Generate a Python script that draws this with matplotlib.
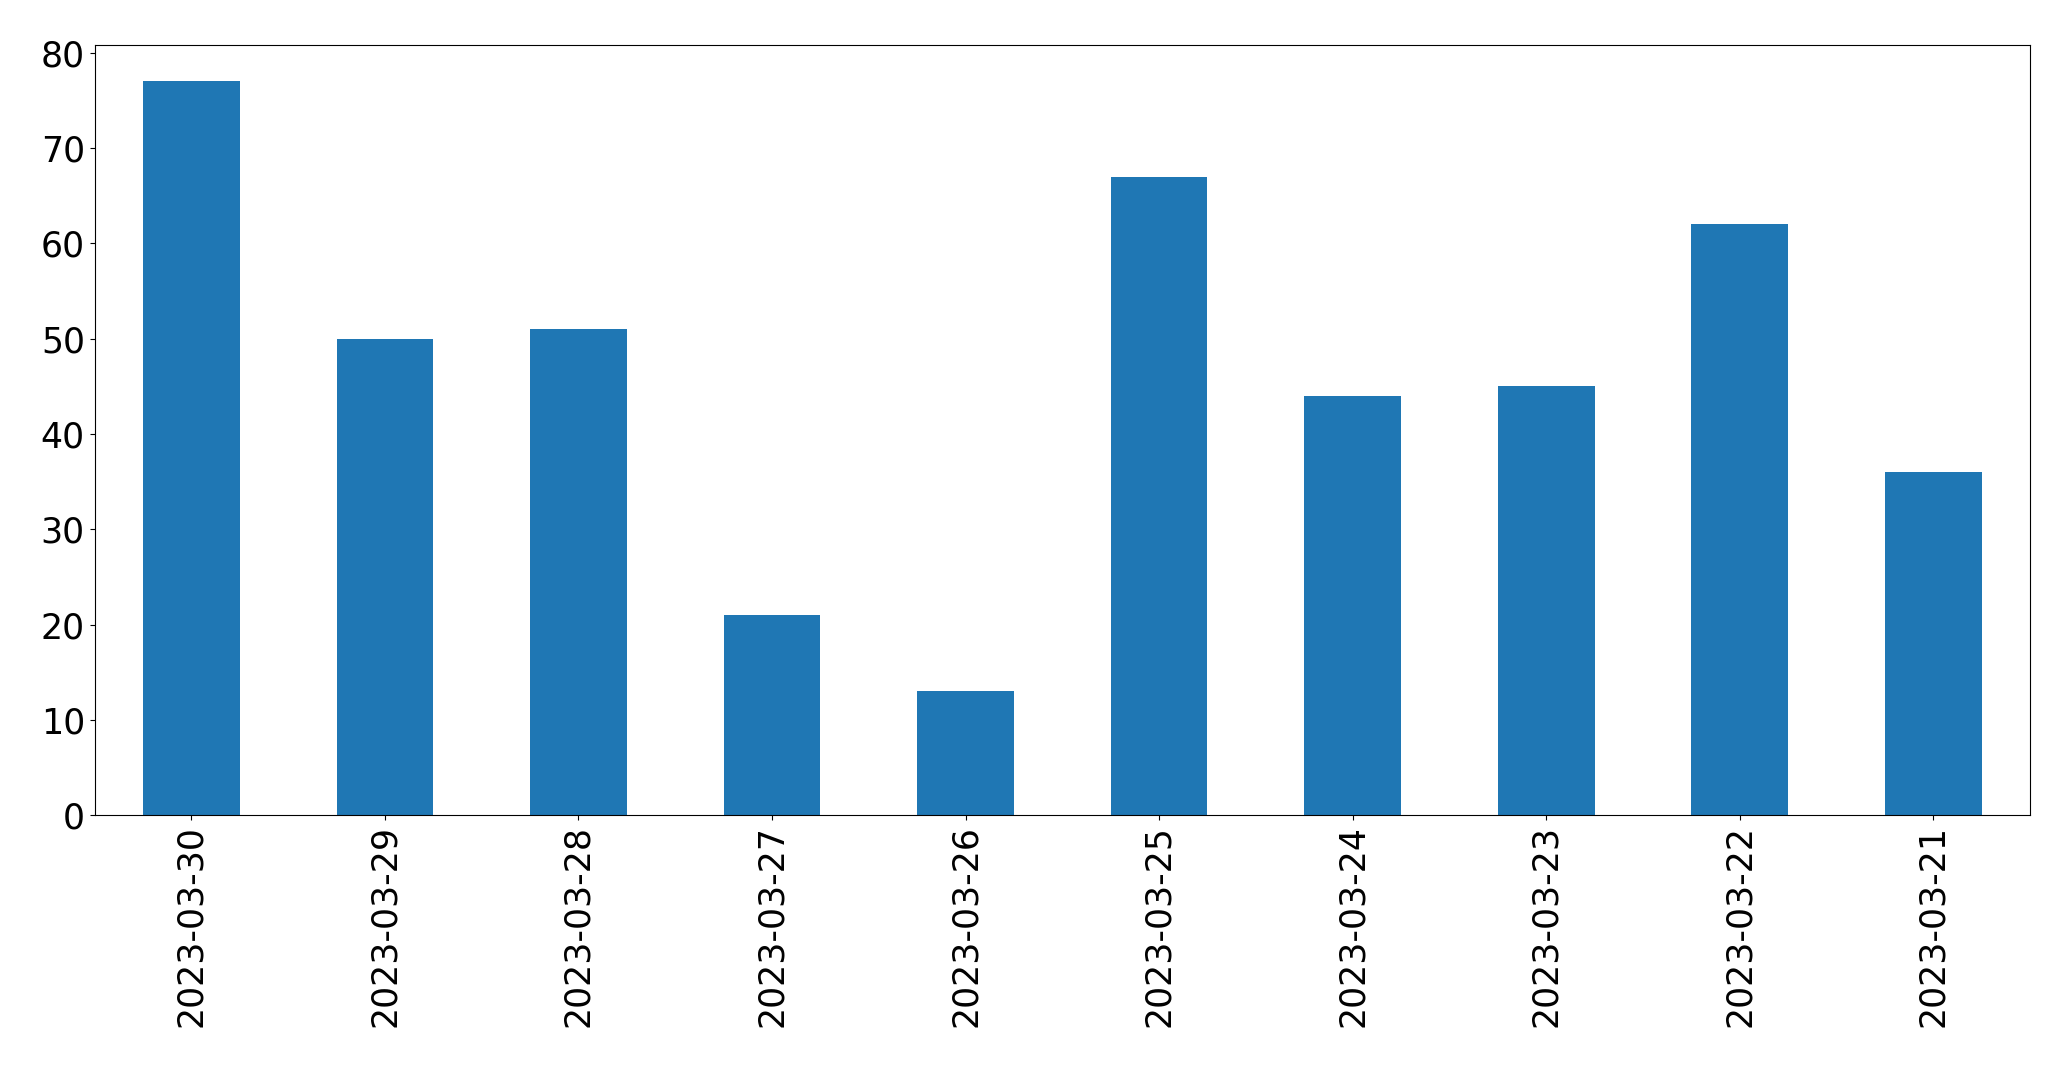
import matplotlib
matplotlib.use("Agg")
import matplotlib.pyplot as plt

dates = ["2023-03-30", "2023-03-29", "2023-03-28", "2023-03-27", "2023-03-26",
         "2023-03-25", "2023-03-24", "2023-03-23", "2023-03-22", "2023-03-21"]
values = [77, 50, 51, 21, 13, 67, 44, 45, 62, 36]

fig = plt.figure(figsize=(20.71, 10.67), dpi=100)
ax = fig.add_axes([0.0457, 0.236, 0.9345, 0.722])
x = list(range(len(dates)))
ax.bar(x, values, width=0.5, color="#1f77b4")
ax.set_xlim(-0.5, len(dates) - 0.5)
ax.set_xticks(x)
ax.set_xticklabels(dates, rotation=90)
ax.tick_params(axis="both", labelsize=25)
fig.savefig("out.png", dpi=100)
